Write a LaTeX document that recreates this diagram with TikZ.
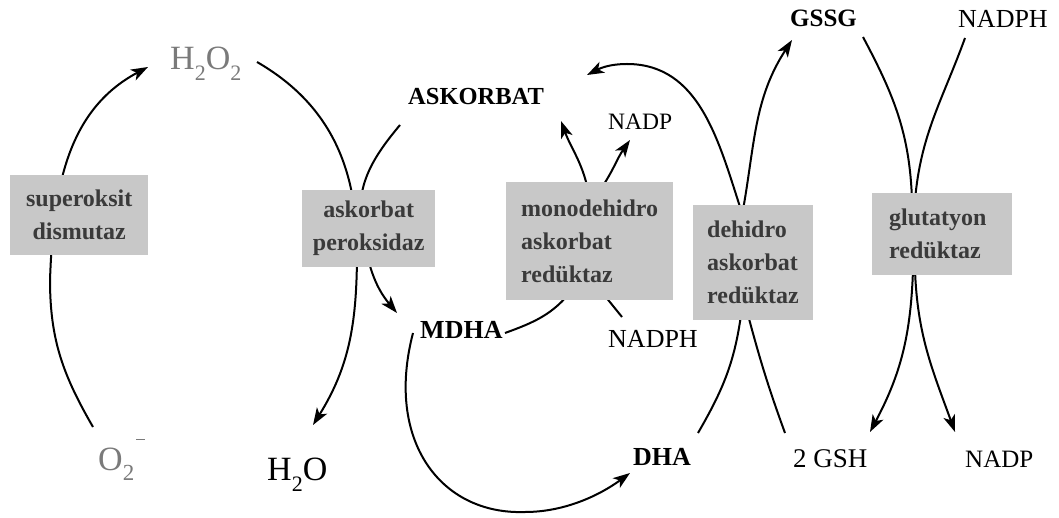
\documentclass[tikz,border=0pt]{standalone}
\usepackage{fontspec}
\setmainfont{Liberation Serif}
\usetikzlibrary{arrows.meta}
\pgfdeclarelayer{bg}
\pgfsetlayers{bg,main}
\definecolor{enzfill}{HTML}{C8C8C8}
\definecolor{enztext}{HTML}{3A3A3A}
\definecolor{oxgray}{HTML}{7A7A7A}
\newcommand\chemsub[1]{\raisebox{-11pt}{\fontsize{22}{22}\selectfont #1}}

\begin{document}
\begin{tikzpicture}[x=1pt,y=1pt,
  enz/.style={fill=enzfill, text=enztext, anchor=north west, inner ysep=0pt,
    font=\fontsize{24}{33}\selectfont\bfseries},
  lbl/.style={anchor=base west, inner sep=0pt},
  flow/.style={line width=2pt, -{Stealth[length=17pt,width=12pt,inset=4.5pt]}}
]
\useasboundingbox (0,0) rectangle (1059,-518);

% enzymes
\node[enz, minimum height=80pt, text width=110pt, inner xsep=14pt, align=center] (sod) at (10,-175) {superoksit\\dismutaz};
\node[enz, minimum height=77pt, text width=117pt, inner xsep=8pt, align=center] (apx) at (302,-190) {askorbat\\peroksidaz};
\node[enz, minimum height=118pt, text width=137pt, inner xsep=15pt, align=left] (mdhar) at (506,-182) {monodehidro\\askorbat\\redüktaz};
\node[enz, minimum height=115pt, text width=92pt, inner xsep=14pt, align=left] (dhar) at (693,-205) {dehidro\\askorbat\\redüktaz};
\node[enz, minimum height=82pt, text width=106pt, inner xsep=17pt, align=left] (gr) at (872,-193) {glutatyon\\redüktaz};

% metabolites
\node[lbl, text=oxgray, font=\fontsize{34}{34}\selectfont] (h2o2) at (170,-70) {H\chemsub{2}O\chemsub{2}};
\node[lbl, font=\fontsize{34}{34}\selectfont] (h2o) at (267,-480) {H\chemsub{2}O};
\node[lbl, text=oxgray, font=\fontsize{34}{34}\selectfont] (o2) at (98,-470) {O\raisebox{-10pt}{\fontsize{23}{23}\selectfont 2}\kern2pt\raisebox{30pt}{\rule{9pt}{1.4pt}}};
\node[lbl, font=\fontsize{24.5}{25}\selectfont\bfseries] (ask) at (408,-105) {ASKORBAT};
\node[lbl, font=\fontsize{23.5}{24}\selectfont] (nadp1) at (608,-130) {NADP};
\node[lbl, font=\fontsize{26}{26}\selectfont\bfseries] (mdha) at (420,-338) {MDHA};
\node[lbl, font=\fontsize{26}{26}\selectfont] (nadph1) at (608,-347) {NADPH};
\node[lbl, font=\fontsize{26}{26}\selectfont\bfseries] (dha) at (633,-465) {DHA};
\node[lbl, font=\fontsize{25}{25}\selectfont\bfseries] (gssg) at (790,-27) {GSSG};
\node[lbl, font=\fontsize{26}{26}\selectfont] (nadph2) at (958,-28) {NADPH};
\node[lbl, font=\fontsize{27}{27}\selectfont] (gsh) at (793,-467) {2 GSH};
\node[lbl, font=\fontsize{25}{25}\selectfont] (nadp2) at (965,-467) {NADP};

\begin{pgfonlayer}{bg}
\fill[white] (0,0) rectangle (1059,-518);
% superoxide dismutase: O2- -> H2O2
\draw[flow] ([shift={(-5,43)}]o2.base west) to[out=120,in=-90] (50,-280)
  to[out=88,in=208] ([shift={(-22,3)}]h2o2.base west);
% ascorbate peroxidase: H2O2 -> H2O and ASKORBAT -> MDHA
\draw[flow] ([shift={(87,8)}]h2o2.base west) to[out=-30,in=90] (357,-250)
  to[out=-90,in=58] ([shift={(46,55)}]h2o.base west);
\draw[flow] ([shift={(-8,-20)}]ask.base west) to[out=-130,in=100] (362,-230)
  to[out=-80,in=130] ([shift={(-23,25)}]mdha.base west);
% monodehydroascorbate reductase
\draw[flow] ([shift={(85,5)}]mdha.base west) to[out=20,in=-128] (572,-290)
  to[out=52,in=-80] (588,-190) to[out=102,in=-70] ([shift={(153,-16)}]ask.base west);
\draw[flow] ([shift={(14,30)}]nadph1.base west) -- (605,-296) -- (600,-190)
  to[out=55,in=-125] ([shift={(22,-10)}]nadp1.base west);
% MDHA -> DHA
\draw[flow] ([shift={(-7,5)}]mdha.base west) .. controls (385,-440) and (440,-515) .. (525,-512)
  .. controls (565,-512) and (600,-495) .. ([shift={(-3,-8)}]dha.base west);
% dehydroascorbate reductase
\draw[flow] ([shift={(65,32)}]dha.base west) to[out=60,in=-98] (741,-315) -- (741,-210)
  to[out=108,in=0] (627,-64) to[out=180,in=27] ([shift={(179,30)}]ask.base west);
\draw[flow] ([shift={(-8,34)}]gsh.base west) to[out=110,in=-75] (748,-315) -- (743,-210)
  to[out=80,in=-123] ([shift={(2,-13)}]gssg.base west);
% glutathione reductase
\draw[flow] ([shift={(73,-10)}]gssg.base west) to[out=-62,in=92] (912,-200) -- (913,-270)
  to[out=-92,in=62] ([shift={(77,35)}]gsh.base west);
\draw[flow] ([shift={(7,-10)}]nadph2.base west) to[out=-110,in=85] (915,-200) -- (915,-270)
  to[out=-88,in=110] ([shift={(-10,35)}]nadp2.base west);
\end{pgfonlayer}
\end{tikzpicture}
\end{document}
